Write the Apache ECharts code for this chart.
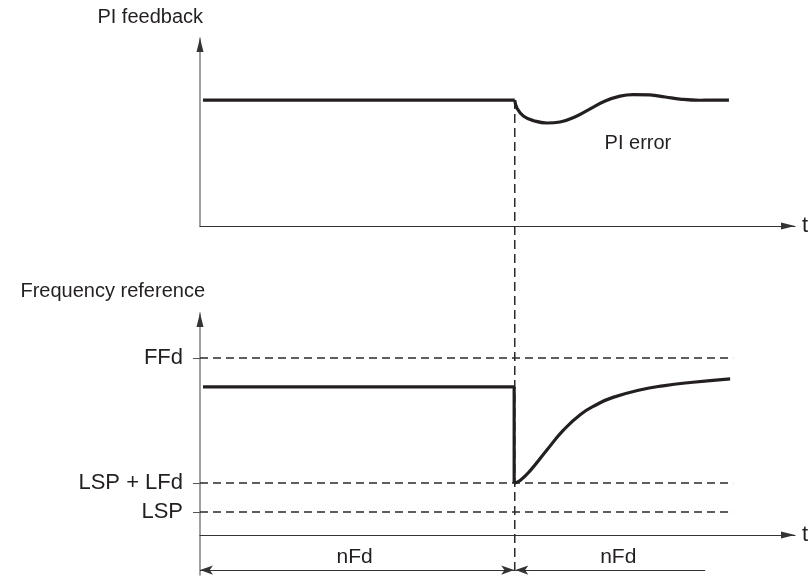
<!DOCTYPE html>
<html>
<head>
<meta charset="utf-8">
<script src="https://cdn.jsdelivr.net/npm/echarts@6/dist/echarts.min.js"></script>
<style>
  html,body{margin:0;padding:0;background:#fff;}
  #chart{width:812px;height:579px;}
</style>
</head>
<body>
<div id="chart"></div>
<script>
// time runs 0..100 along both x axes, levels are 0..100 of the panel height
const feedbackFlatT = [0.5, 52.9];
const feedbackFlatV = [67.0, 67.0];
const feedbackT = [52.9, 53.3, 54.4, 56.1, 58.3, 60.5, 63.0, 65.5, 68.1, 70.6, 72.8, 75.6, 78.2, 80.7, 84.0, 88.9];
const feedbackV = [67.0, 62.5, 58.4, 56.0, 54.8, 55.3, 58.0, 62.2, 66.5, 69.1, 69.9, 69.7, 68.6, 67.5, 66.9, 67.0];

const freqStepT = [0.5, 52.8, 52.8];
const freqStepV = [66.7, 66.7, 23.4];
const freqT = [52.8, 53.8, 55.5, 58.3, 61.0, 63.9, 66.7, 69.4, 73.9, 77.8, 82.4, 89.1];
const freqV = [23.4, 24.6, 29.0, 38.3, 47.0, 54.2, 58.8, 62.0, 65.3, 67.2, 68.7, 70.3];

const levelNames = ['FFd', 'LSP + LFd', 'LSP'];
const levelValues = [79.7, 23.4, 10.4];
const levelEnd = 89.6;

const eventT = 52.9;
const nfdArrowV = -15.8;
const nfdEnd = 84.9;

const ink = '#231f20';
const font = 'Liberation Sans, Arial, sans-serif';

function pairs(xs, ys){ return xs.map((x, i) => [x, ys[i]]); }

let myChart = echarts.init(document.getElementById('chart'));

let xAxisBase = {
  type: 'value', min: 0, max: 100,
  axisLine: {show: true, onZero: true, symbol: ['none', 'triangle'], symbolSize: [7, 14], symbolOffset: [0, -7],
    lineStyle: {color: '#333', width: 1.2}},
  axisTick: {show: false}, axisLabel: {show: false}, splitLine: {show: false},
  name: 't', nameLocation: 'end', nameGap: 7,
  nameTextStyle: {color: ink, fontSize: 22, fontFamily: font}
};

let dashed = {color: '#2a2a2a', width: 1.5, type: [8, 5]};

// dark arrow heads on top of the grey value axes
let axisHead = {symbol: 'triangle', symbolSize: [7, 14], symbolOffset: [0, 7], silent: true,
  itemStyle: {color: '#333'}, label: {show: false}, data: [{coord: [0, 100]}]};

let series = [
  {type: 'line', xAxisIndex: 0, yAxisIndex: 0, data: pairs(feedbackFlatT, feedbackFlatV), symbol: 'none',
    lineStyle: {color: ink, width: 3.2}, markPoint: axisHead},
  {type: 'line', xAxisIndex: 0, yAxisIndex: 0, data: pairs(feedbackT, feedbackV), symbol: 'none', smooth: 0.45,
    lineStyle: {color: ink, width: 3.2},
    markPoint: {symbol: 'circle', symbolSize: 0,
      label: {show: true, position: 'inside', formatter: '{b}', color: ink, fontSize: 20, fontFamily: font},
      data: [{name: 'PI error', coord: [73.6, 44.1]}]}},
  // vertical dashed marker through both panels
  {type: 'line', xAxisIndex: 0, yAxisIndex: 0, clip: false, data: [[eventT, 67.0], [eventT, -185.6]], symbol: 'none',
    lineStyle: {color: '#2a2a2a', width: 1.5, type: [9, 5]}, z: 1},
  {type: 'line', xAxisIndex: 1, yAxisIndex: 1, data: pairs(freqStepT, freqStepV), symbol: 'none',
    lineStyle: {color: ink, width: 3.2}, z: 3, markPoint: axisHead},
  {type: 'line', xAxisIndex: 1, yAxisIndex: 1, data: pairs(freqT, freqV), symbol: 'none', smooth: 0.5,
    lineStyle: {color: ink, width: 3.2}, z: 3,
    markLine: {silent: true, animation: false, label: {show: false},
      lineStyle: {color: '#333', width: 1.2, type: 'solid'},
      symbolSize: [7, 13],
      data: [
        [{coord: [0, nfdArrowV], symbol: 'arrow'}, {coord: [eventT - 0.1, nfdArrowV], symbol: 'arrow'}],
        [{coord: [eventT + 0.1, nfdArrowV], symbol: 'arrow'}, {coord: [nfdEnd, nfdArrowV], symbol: 'none'}]
      ]},
    markPoint: {symbol: 'circle', symbolSize: 0,
      label: {show: true, position: 'inside', formatter: '{b}', color: ink, fontSize: 21, fontFamily: font},
      data: [{name: 'nFd', coord: [26.0, -10.2]}, {name: 'nFd', coord: [70.3, -10.2]}]}}
];

levelValues.forEach(function(v){
  series.push({type: 'line', xAxisIndex: 1, yAxisIndex: 1, data: [[0, v], [levelEnd, v]], symbol: 'none',
    lineStyle: dashed, z: 1});
});

let option = {
  animation: false,
  grid: [
    {left: 200, right: 17, top: 38, height: 188},
    {left: 200, right: 17, top: 313, height: 262}
  ],
  xAxis: [
    Object.assign({}, xAxisBase, {gridIndex: 0}),
    Object.assign({}, xAxisBase, {gridIndex: 1})
  ],
  yAxis: [
    {type: 'value', gridIndex: 0, min: 0, max: 100,
      axisLine: {show: true, lineStyle: {color: '#8a8a8a', width: 1.6}},
      axisTick: {show: false}, axisLabel: {show: false}, splitLine: {show: false},
      name: 'PI feedback', nameLocation: 'end', nameGap: 11,
      nameTextStyle: {color: ink, fontSize: 20, fontFamily: font, align: 'right', padding: [0, -3, 0, 0]}},
    {type: 'value', gridIndex: 1, min: -18, max: 100,
      axisLine: {show: true, onZero: false, lineStyle: {color: '#8a8a8a', width: 1.6}},
      axisTick: {show: true, length: 7, customValues: levelValues, lineStyle: {color: '#555', width: 1}},
      axisLabel: {show: true, customValues: levelValues, margin: 17, color: ink, fontSize: 22, fontFamily: font,
        formatter: function(v){ return levelNames[levelValues.indexOf(v)]; }},
      splitLine: {show: false},
      name: 'Frequency reference', nameLocation: 'end', nameGap: 12,
      nameTextStyle: {color: ink, fontSize: 20, fontFamily: font, align: 'right', padding: [0, -5, 0, 0]}}
  ],
  series: series
};

myChart.setOption(option);
</script>
</body>
</html>
